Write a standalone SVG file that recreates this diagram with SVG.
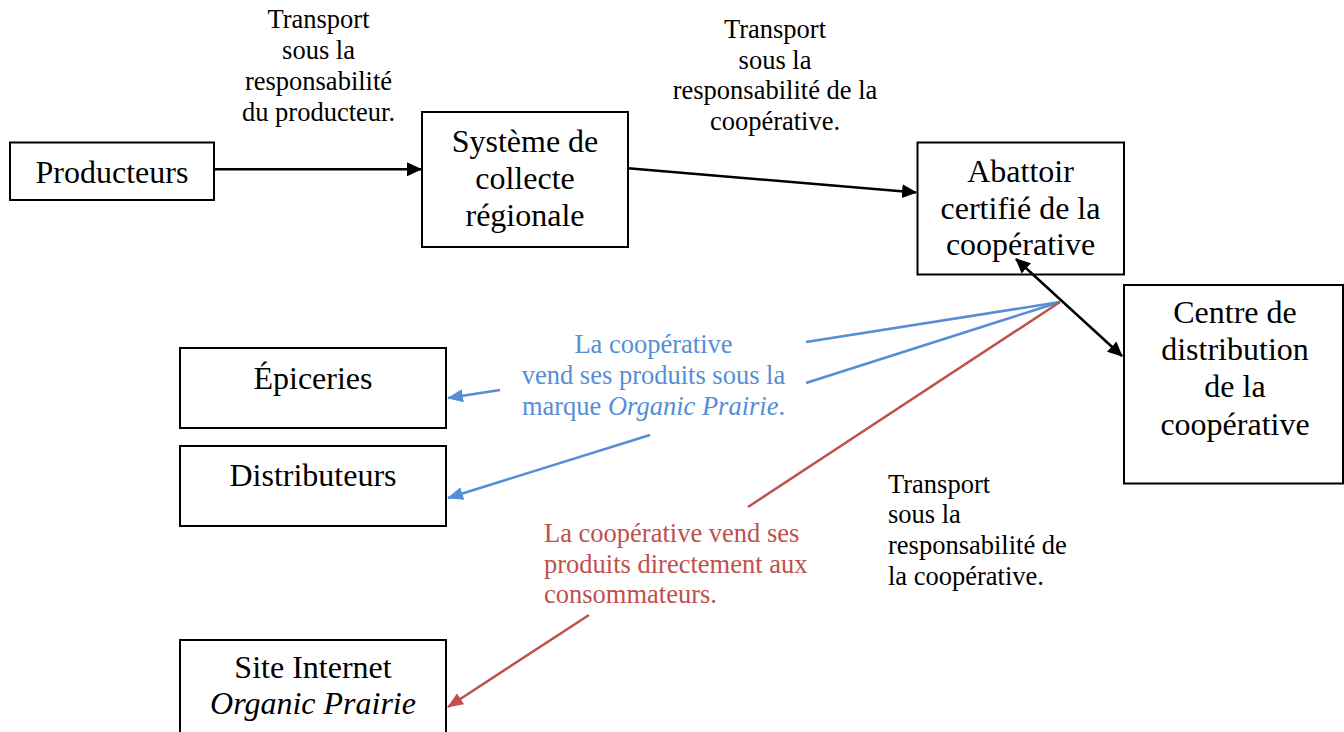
<svg xmlns="http://www.w3.org/2000/svg" width="1344" height="732" viewBox="0 0 1344 732">
<style>
  text { font-family: "Liberation Serif", "Times New Roman", serif; }
  .box { fill: #ffffff; stroke: #000000; stroke-width: 2; }
  .node { font-size: 32px; fill: #000000; text-anchor: middle; }
  .lbl { font-size: 26.5px; fill: #000000; }
  .blue { fill: #558ED5; }
  .red { fill: #C0504D; }
  .k { stroke: #000000; stroke-width: 2.5; fill: none; }
  .b { stroke: #558ED5; stroke-width: 2.5; fill: none; }
  .r { stroke: #C0504D; stroke-width: 2.5; fill: none; }
  .it { font-style: italic; }
</style>
<defs>
  <marker id="ak" viewBox="0 0 15 14" refX="14" refY="7" markerWidth="15" markerHeight="14" markerUnits="userSpaceOnUse" orient="auto-start-reverse">
    <path d="M0,0 L15,7 L0,14 z" fill="#000000"/>
  </marker>
  <marker id="ab" viewBox="0 0 16 13" refX="15" refY="6.5" markerWidth="16" markerHeight="13" markerUnits="userSpaceOnUse" orient="auto">
    <path d="M0,0 L16,6.5 L0,13 z" fill="#558ED5"/>
  </marker>
  <marker id="ar" viewBox="0 0 16 13" refX="15" refY="6.5" markerWidth="16" markerHeight="13" markerUnits="userSpaceOnUse" orient="auto">
    <path d="M0,0 L16,6.5 L0,13 z" fill="#C0504D"/>
  </marker>
</defs>

<g id="label-producteur">
  <text class="lbl" text-anchor="middle" x="318.5" y="28">Transport</text>
  <text class="lbl" text-anchor="middle" x="318.5" y="59">sous la</text>
  <text class="lbl" text-anchor="middle" x="318.5" y="90">responsabilité</text>
  <text class="lbl" text-anchor="middle" x="318.5" y="120.5">du producteur.</text>
</g>
<g id="label-cooperative-top">
  <text class="lbl" text-anchor="middle" x="775" y="38">Transport</text>
  <text class="lbl" text-anchor="middle" x="775" y="68.5">sous la</text>
  <text class="lbl" text-anchor="middle" x="775" y="99">responsabilité de la</text>
  <text class="lbl" text-anchor="middle" x="775" y="130">coopérative.</text>
</g>
<g id="label-blue">
  <text class="lbl blue" text-anchor="middle" x="653.5" y="353">La coopérative</text>
  <text class="lbl blue" text-anchor="middle" x="653.5" y="384">vend ses produits sous la</text>
  <text class="lbl blue" text-anchor="middle" x="653.5" y="415">marque <tspan class="it">Organic Prairie</tspan>.</text>
</g>
<g id="label-red">
  <text class="lbl red" x="544" y="542">La coopérative vend ses</text>
  <text class="lbl red" x="544" y="573">produits directement aux</text>
  <text class="lbl red" x="544" y="603">consommateurs.</text>
</g>
<g id="label-cooperative-bottom">
  <text class="lbl" x="888" y="492.5">Transport</text>
  <text class="lbl" x="888" y="523">sous la</text>
  <text class="lbl" x="888" y="554">responsabilité de</text>
  <text class="lbl" x="888" y="584.5">la coopérative.</text>
</g>

<g id="node-producteurs">
  <rect class="box" x="10" y="142.5" width="204" height="57.5"/>
  <text class="node" x="112" y="182.7">Producteurs</text>
</g>
<g id="node-systeme">
  <rect class="box" x="422" y="112" width="206" height="135"/>
  <text class="node" x="525" y="151.5">Système de</text>
  <text class="node" x="525" y="188.5">collecte</text>
  <text class="node" x="525" y="225.5">régionale</text>
</g>
<g id="node-abattoir">
  <rect class="box" x="917.5" y="142.5" width="206.5" height="132"/>
  <text class="node" x="1020.5" y="181.7">Abattoir</text>
  <text class="node" x="1020.5" y="218.5">certifié de la</text>
  <text class="node" x="1020.5" y="255.3">coopérative</text>
</g>
<g id="node-centre">
  <rect class="box" x="1124" y="285" width="219" height="198.5"/>
  <text class="node" x="1235" y="323">Centre de</text>
  <text class="node" x="1235" y="360">distribution</text>
  <text class="node" x="1235" y="397">de la</text>
  <text class="node" x="1235" y="434.5">coopérative</text>
</g>
<g id="node-epiceries">
  <rect class="box" x="180" y="348" width="266" height="80"/>
  <text class="node" x="313" y="389">Épiceries</text>
</g>
<g id="node-distributeurs">
  <rect class="box" x="180" y="446" width="266" height="80"/>
  <text class="node" x="313" y="485.5">Distributeurs</text>
</g>
<g id="node-site">
  <rect class="box" x="180" y="640" width="266" height="100"/>
  <text class="node" x="313" y="678">Site Internet</text>
  <text class="node it" x="313" y="713.5">Organic Prairie</text>
</g>

<g id="connectors">
  <line class="k" x1="214" y1="169.3" x2="421" y2="169.3" marker-end="url(#ak)"/>
  <line class="k" x1="628" y1="168.3" x2="916" y2="192.5" marker-end="url(#ak)"/>
  <line class="k" x1="1016" y1="259" x2="1122" y2="356" marker-start="url(#ak)" marker-end="url(#ak)"/>
  <line class="b" x1="1060" y1="302" x2="806" y2="342"/>
  <line class="b" x1="500" y1="390" x2="448" y2="398" marker-end="url(#ab)"/>
  <line class="b" x1="1060" y1="302" x2="806" y2="383"/>
  <line class="b" x1="650" y1="435" x2="448" y2="498" marker-end="url(#ab)"/>
  <line class="r" x1="1060" y1="302" x2="748" y2="507"/>
  <line class="r" x1="589" y1="615" x2="448" y2="707" marker-end="url(#ar)"/>
</g>
</svg>
